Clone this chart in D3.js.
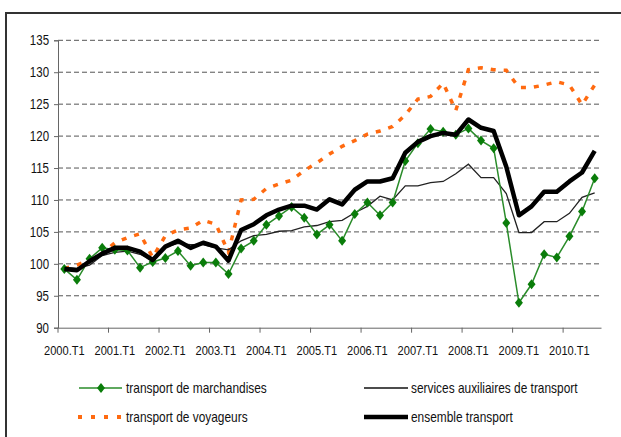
<!DOCTYPE html>
<html><head><meta charset="utf-8">
<script src="https://cdn.jsdelivr.net/npm/d3@7"></script>
<style>
html,body{margin:0;padding:0;background:#fff;}
svg{display:block;}
text{font-family:"Liberation Sans",Arial,sans-serif;fill:#111;}
</style></head><body>
<script>
const categories = ["2000.T1","2000.T2","2000.T3","2000.T4","2001.T1","2001.T2","2001.T3","2001.T4",
"2002.T1","2002.T2","2002.T3","2002.T4","2003.T1","2003.T2","2003.T3","2003.T4",
"2004.T1","2004.T2","2004.T3","2004.T4","2005.T1","2005.T2","2005.T3","2005.T4",
"2006.T1","2006.T2","2006.T3","2006.T4","2007.T1","2007.T2","2007.T3","2007.T4",
"2008.T1","2008.T2","2008.T3","2008.T4","2009.T1","2009.T2","2009.T3","2009.T4",
"2010.T1","2010.T2","2010.T3"];
const xTickLabels = ["2000.T1","2001.T1","2002.T1","2003.T1","2004.T1","2005.T1","2006.T1","2007.T1","2008.T1","2009.T1","2010.T1"];
const yTicks = [90,95,100,105,110,115,120,125,130,135];

const marchandises = [99.2,97.5,100.8,102.5,102.2,102.1,99.4,100.3,100.9,102.0,99.7,100.2,100.2,98.4,
102.4,103.6,106.1,107.5,108.9,107.2,104.6,106.1,103.6,107.8,109.6,107.6,109.6,116.1,118.9,121.1,120.7,
120.2,121.2,119.3,118.1,106.4,93.9,96.8,101.5,101.0,104.3,108.2,113.4];
const voyageurs = [99.3,99.8,100.6,101.6,103.3,104.1,104.7,101.0,104.4,105.3,105.6,106.8,106.2,101.8,
110.0,110.1,111.8,112.5,113.1,114.6,115.8,117.2,118.4,119.3,120.3,120.8,121.5,123.3,125.8,126.2,128.3,
124.0,130.4,130.7,130.4,130.3,127.6,127.6,128.0,128.5,128.0,124.9,128.0];
const auxiliaires = [99.5,99.3,99.8,101.3,101.8,102.0,101.5,100.5,102.6,103.2,103.0,103.0,102.5,102.2,
103.6,104.4,104.6,105.1,105.2,105.8,106.0,106.6,106.8,108.0,109.0,110.6,110.0,112.2,112.2,112.7,112.9,
114.1,115.6,113.5,113.5,111.0,104.9,104.9,106.6,106.6,107.9,110.4,111.1];
const ensemble = [99.2,99.0,100.4,101.6,102.5,102.5,101.9,100.6,102.7,103.6,102.5,103.3,102.7,100.5,
105.3,106.2,107.6,108.5,109.1,109.1,108.5,110.1,109.3,111.6,112.9,112.9,113.4,117.4,119.1,120.0,120.5,
120.2,122.6,121.3,120.8,115.2,107.6,109.0,111.3,111.3,112.9,114.3,117.7];

const W = 621, H = 437;
const NARROW = 0.82;
const svg = d3.select("body").append("svg").attr("width", W).attr("height", H);

function narrow(sel) {
  sel.each(function () {
    const w = this.getComputedTextLength();
    d3.select(this).attr("textLength", w * NARROW).attr("lengthAdjust", "spacingAndGlyphs");
  });
}

// outer frame
svg.append("rect").attr("x", 6).attr("y", 13).attr("width", 700).attr("height", 500)
  .attr("fill", "none").attr("stroke", "#333").attr("stroke-width", 2);

const pL = 58, pR = 601, pT = 40.3, pB = 327.7;
const x = d3.scaleBand().domain(categories).range([pL, pR]).padding(0);
const y = d3.scaleLinear().domain([90, 135]).range([pB, pT]);
const cx = d => x(d) + x.bandwidth() / 2;

// gridlines
svg.append("g").selectAll("line").data(yTicks.filter(v => v > 90)).join("line")
  .attr("x1", pL).attr("x2", pR).attr("y1", d => y(d)).attr("y2", d => y(d))
  .attr("stroke", "#555").attr("stroke-width", 1).attr("stroke-dasharray", "5,3");

// y axis
const yAxis = svg.append("g").attr("transform", `translate(${pL},0)`)
  .call(d3.axisLeft(y).tickValues(yTicks).tickSize(4).tickPadding(5).tickFormat(d3.format("d")));
yAxis.select(".domain").attr("stroke", "#666");
yAxis.selectAll(".tick line").attr("stroke", "#666");
yAxis.selectAll("text").style("font-size", "14px").attr("fill", "#111").call(narrow);

// x axis
const xAxis = svg.append("g").attr("transform", `translate(0,${pB})`)
  .call(d3.axisBottom(x).tickValues(xTickLabels).tickSize(0).tickPadding(18));
xAxis.select(".domain").attr("stroke", "#666");
xAxis.selectAll("text").style("font-size", "13.5px").attr("fill", "#111").call(narrow);
svg.append("g").selectAll("line").data(xTickLabels).join("line")
  .attr("x1", d => x(d)).attr("x2", d => x(d)).attr("y1", pB).attr("y2", pB + 5)
  .attr("stroke", "#666");

const line = d3.line().x((d, i) => cx(categories[i])).y(d => y(d));

// series
svg.append("path").datum(voyageurs).attr("d", line).attr("fill", "none")
  .attr("stroke", "#ff6a10").attr("stroke-width", 3.5).attr("stroke-dasharray", "5,8");
svg.append("path").datum(auxiliaires).attr("d", line).attr("fill", "none")
  .attr("stroke", "#222").attr("stroke-width", 1.3);
svg.append("path").datum(marchandises).attr("d", line).attr("fill", "none")
  .attr("stroke", "#2a8c2a").attr("stroke-width", 1.5);
const diamond = "M0,-5L4,0L0,5L-4,0Z";
svg.append("g").selectAll("path").data(marchandises).join("path")
  .attr("d", diamond)
  .attr("transform", (d, i) => `translate(${cx(categories[i])},${y(d)})`)
  .attr("fill", "#0a7d0a");
svg.append("path").datum(ensemble).attr("d", line).attr("fill", "none")
  .attr("stroke", "#000").attr("stroke-width", 4.5).attr("stroke-linejoin", "round");

// legend
const lg = svg.append("g");
const r1 = 388, r2 = 417;
lg.append("line").attr("x1", 79).attr("x2", 122).attr("y1", r1).attr("y2", r1)
  .attr("stroke", "#2a8c2a").attr("stroke-width", 1.5);
lg.append("path").attr("d", diamond).attr("transform", `translate(101,${r1})`).attr("fill", "#0a7d0a");
lg.append("line").attr("x1", 78).attr("x2", 122).attr("y1", r2).attr("y2", r2)
  .attr("stroke", "#ff6a10").attr("stroke-width", 4).attr("stroke-dasharray", "4,9");
lg.append("line").attr("x1", 364).attr("x2", 408).attr("y1", r1).attr("y2", r1)
  .attr("stroke", "#111").attr("stroke-width", 1.3);
lg.append("line").attr("x1", 364).attr("x2", 408).attr("y1", r2).attr("y2", r2)
  .attr("stroke", "#000").attr("stroke-width", 4.5);
const legendTexts = [
  {t: "transport de marchandises", x: 126, y: r1},
  {t: "transport de voyageurs", x: 126, y: r2},
  {t: "services auxiliaires de transport", x: 411, y: r1},
  {t: "ensemble transport", x: 411, y: r2}
];
lg.selectAll("text").data(legendTexts).join("text")
  .attr("x", d => d.x).attr("y", d => d.y).attr("dy", "0.35em")
  .style("font-size", "14.5px").text(d => d.t).call(narrow);
</script>
</body></html>
